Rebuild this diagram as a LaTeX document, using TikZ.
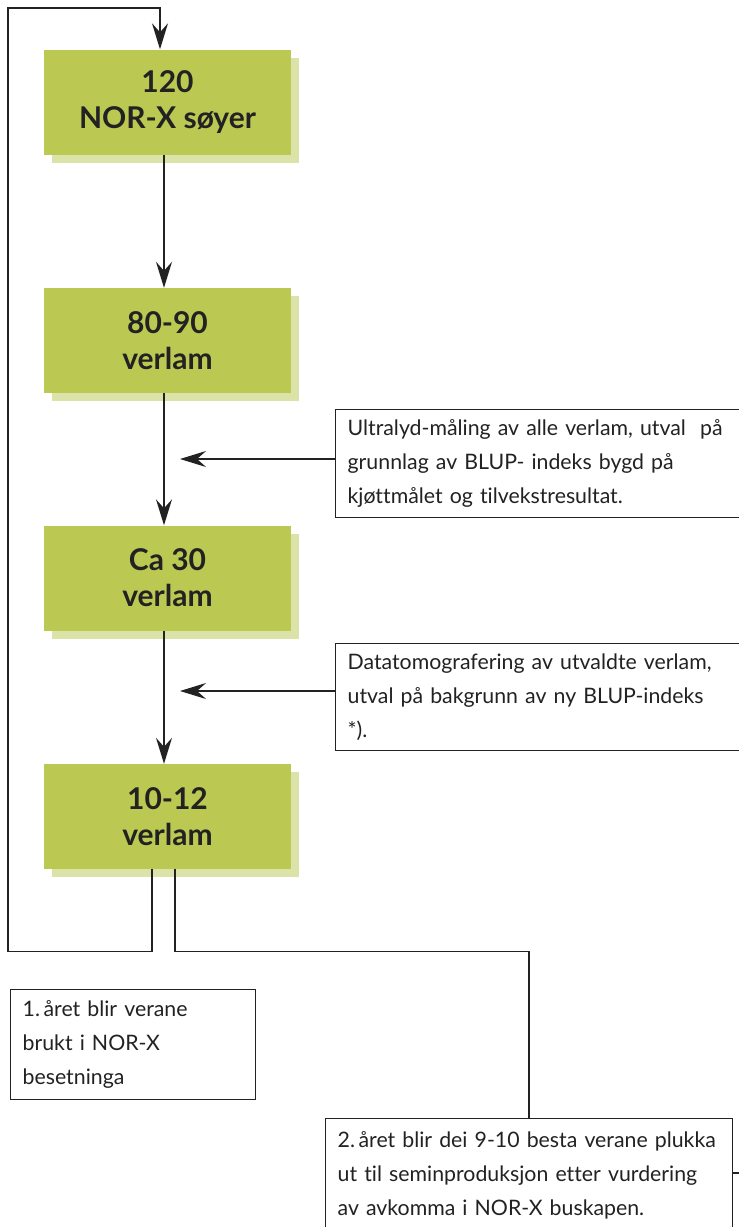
\documentclass[tikz,border=0pt]{standalone}
\usepackage{fontspec}
\setmainfont[Ligatures={NoCommon}]{Lato}
\usetikzlibrary{arrows.meta,shadows}
\definecolor{boxgreen}{HTML}{BBC953}
\definecolor{shadowgreen}{HTML}{DCE3A9}
\definecolor{ink}{HTML}{222222}
\begin{document}
\begin{tikzpicture}[x=1pt,y=-1pt,
  greenbox/.style={fill=boxgreen, minimum width=247pt, minimum height=105pt, inner sep=0pt,
    align=center, text=ink, font=\bfseries\fontsize{30}{36}\selectfont,
    drop shadow={shadow xshift=8pt, shadow yshift=-8pt, fill=shadowgreen, opacity=1}},
  notebox/.style={draw=ink, line width=1.3pt, anchor=north west, align=left, text=ink,
    inner xsep=12pt, inner ysep=0pt, font=\fontsize{21.3}{34}\selectfont},
  conn/.style={draw=ink, line width=1.4pt},
  arr/.style={conn, -{Stealth[length=26pt,width=16pt,inset=9pt]}}]
\path[use as bounding box, clip] (0,0) rectangle (739,1227);
\fill[white] (0,0) rectangle (739,1227);
% main boxes
\node[greenbox] (b1) at (167.5,102) {120\\NOR-X søyer};
\node[greenbox] (b2) at (167.5,340.5) {80-90\\verlam};
\node[greenbox] (b3) at (167.5,578) {Ca 30\\verlam};
\node[greenbox] (b4) at (167.5,816.5) {10-12\\verlam};
% side notes
\node[notebox, minimum width=420pt, minimum height=108pt, text width=396pt] (s1) at (335,409)
  {Ultralyd-måling av alle verlam, utval\ \ på\\grunnlag av BLUP- indeks bygd på\\kjøttmålet og tilvekstresultat.};
\node[notebox, minimum width=420pt, minimum height=107pt, text width=396pt] (s2) at (335,643)
  {Datatomografering av utvaldte verlam,\\utval på bakgrunn av ny BLUP-indeks\\{*}).};
\node[notebox, minimum width=245pt, minimum height=110pt, text width=221pt] (y1) at (10,989)
  {1.\,året blir verane\\brukt i NOR-X\\besetninga};
\node[notebox, minimum width=407pt, minimum height=113pt, text width=383pt, anchor=north west] (y2) at (325,1118)
  {2.\,året blir dei 9-10 besta verane plukka\\ut til seminproduksjon etter vurdering\\av avkomma i NOR-X buskapen.};
% vertical flow arrows
\draw[arr] ([xshift=-3.5pt]b1.south) -- ([xshift=-3.5pt]b2.north);
\draw[arr] ([xshift=-3.5pt]b2.south) -- ([xshift=-3.5pt]b3.north);
\draw[arr] ([xshift=-3.5pt]b3.south) -- ([xshift=-3.5pt]b4.north);
% side arrows
\coordinate (t1) at (180,459);
\coordinate (t2) at (180,691);
\draw[arr] (s1.west |- t1) -- (t1);
\draw[arr] (s2.west |- t2) -- (t2);
% loop back to top
\draw[arr] ([xshift=-15.5pt]b4.south) -- ++(0,82) -| (8,8) -| ([xshift=-7.5pt]b1.north);
% line to second-year note
\draw[conn] ([xshift=7.5pt]b4.south) -- ++(0,82) -| (y2.north);
% line leaving to the right
\coordinate (r1) at (745,1173);
\draw[conn] (y2.east |- r1) -- (r1);
\end{tikzpicture}
\end{document}
